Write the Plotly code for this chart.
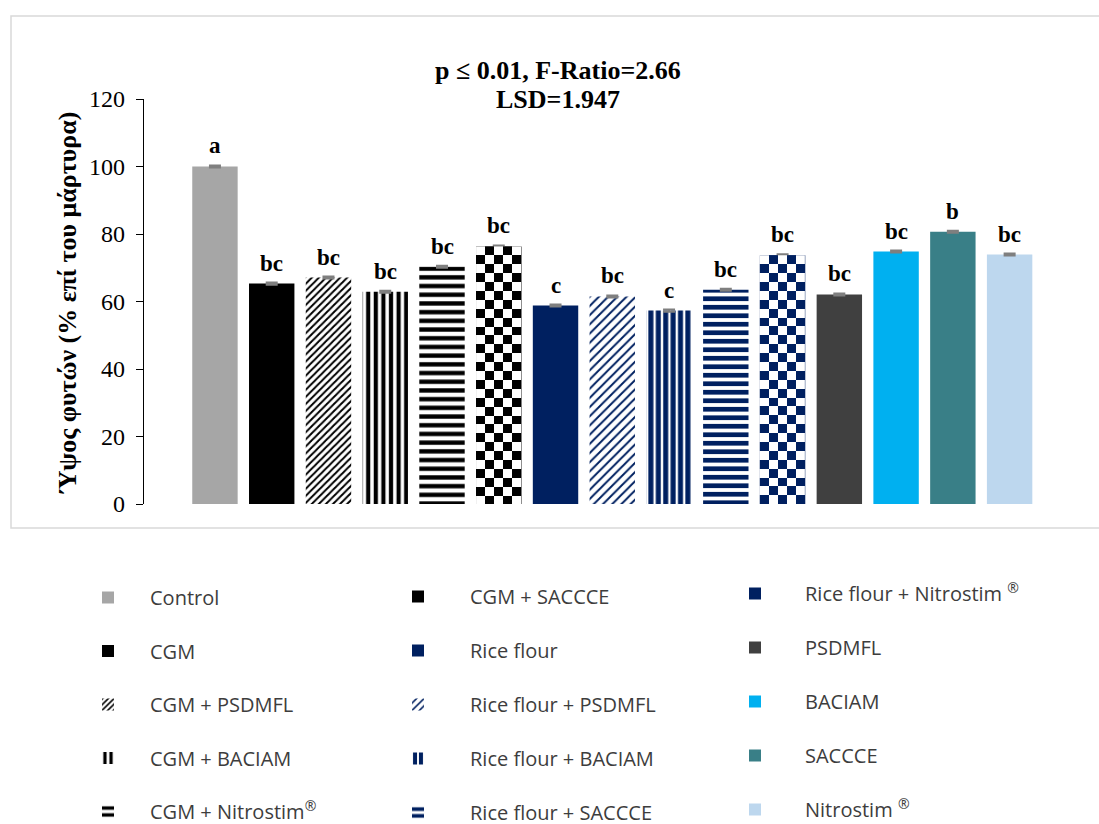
import numpy as np
import plotly.graph_objects as go

# Treatments, in bar order
treatments = [
    "Control", "CGM", "CGM + PSDMFL", "CGM + BACIAM", "CGM + Nitrostim<sup>®</sup>",
    "CGM + SACCCE", "Rice flour", "Rice flour + PSDMFL", "Rice flour + BACIAM",
    "Rice flour + SACCCE", "Rice flour + Nitrostim <sup>®</sup>", "PSDMFL", "BACIAM",
    "SACCCE", "Nitrostim <sup>®</sup>",
]
# Plant height, % of control
height_pct = [100.0, 65.3, 67.1, 62.9, 70.3, 76.3, 58.8, 61.5, 57.3, 63.5, 73.7,
              62.1, 74.8, 80.7, 73.9]
# Standard error of each mean
height_err = [0.3] * 15
# Significance letters (LSD test)
letters = ["a", "bc", "bc", "bc", "bc", "bc", "c", "bc", "c", "bc", "bc",
           "bc", "bc", "b", "bc"]
y_ticks = [0, 20, 40, 60, 80, 100, 120]

title_line1 = "p ≤ 0.01, F-Ratio=2.66"
title_line2 = "LSD=1.947"
y_title = "Ύψος φυτών (% επί του μάρτυρα)"

NAVY = "#002060"
# fill colour, pattern shape ("" solid, "chk" checkerboard), pattern size, solidity
styles = [
    ("#a6a6a6", "", 0, 0),
    ("#000000", "", 0, 0),
    ("#000000", "/", 5, 0.4),
    ("#000000", "|", 7.6, 0.55),
    ("#000000", "-", 8.7, 0.5),
    ("#000000", "chk", 0, 0),
    (NAVY, "", 0, 0),
    (NAVY, "/", 6.5, 0.3),
    (NAVY, "|", 7.4, 0.68),
    (NAVY, "-", 8.5, 0.55),
    (NAVY, "chk", 0, 0),
    ("#404040", "", 0, 0),
    ("#00b0f0", "", 0, 0),
    ("#397f87", "", 0, 0),
    ("#bdd7ee", "", 0, 0),
]
legend_of = ["legend"] * 5 + ["legend2"] * 5 + ["legend3"] * 5

BAR_W = 0.8
XR = [-1.25, 14.5]
YR = [0, 120]
serif = "Liberation Serif"

fig = go.Figure()

for i, (name, v, e) in enumerate(zip(treatments, height_pct, height_err)):
    color, shape, psize, psol = styles[i]
    marker = dict(color=color, line=dict(width=0))
    if shape and shape != "chk":
        marker["pattern"] = dict(shape=shape, fgcolor=color, bgcolor="white",
                                 size=psize, solidity=psol, fillmode="replace")
    fig.add_trace(go.Bar(
        x=[name], y=[v], width=BAR_W, name=name, marker=marker,
        error_y=dict(type="data", array=[e], color="#7f7f7f", thickness=2, width=6),
        legend=legend_of[i], legendgroup=name, showlegend=True,
        hoverinfo="skip",
    ))
    if shape == "chk":
        # checkerboard fill drawn on an overlaid axis pair so it sits above the bar
        ncols = 5
        nrows = int(round(v / 2.6))
        dy = v / nrows
        z = (np.add.outer(np.arange(nrows), np.arange(ncols)) % 2).astype(float)
        z = z[::-1]
        fig.add_trace(go.Heatmap(
            z=z, x0=i - BAR_W / 2 + BAR_W / ncols / 2, dx=BAR_W / ncols,
            y0=dy / 2, dy=dy, xaxis="x2", yaxis="y2",
            colorscale=[[0, "white"], [1, color]], zmin=0, zmax=1,
            showscale=False, zsmooth=False, hoverinfo="skip", showlegend=False,
        ))

# Significance letters above each bar
for name, v, e, let in zip(treatments, height_pct, height_err, letters):
    fig.add_annotation(x=name, y=v + e, text=f"<b>{let}</b>", showarrow=False,
                       yanchor="bottom", yshift=5,
                       font=dict(family=serif, size=23, color="black"))

# Statistics header
fig.add_annotation(xref="paper", yref="paper", x=0.463, y=(504 - 70) / 405,
                   text=f"<b>{title_line1}</b>", showarrow=False,
                   xanchor="center", yanchor="middle",
                   font=dict(family=serif, size=26, color="black"))
fig.add_annotation(xref="paper", yref="paper", x=0.463, y=(504 - 100) / 405,
                   text=f"<b>{title_line2}</b>", showarrow=False,
                   xanchor="center", yanchor="middle",
                   font=dict(family=serif, size=26, color="black"))

# Y-axis title
fig.add_annotation(xref="paper", yref="paper", x=(67 - 144) / 894, y=0.496,
                   text=f"<b>{y_title}</b>", textangle=-90, showarrow=False,
                   xanchor="center", yanchor="middle",
                   font=dict(family=serif, size=26, color="black"))

# Chart frame
fig.add_shape(type="rect", xref="paper", yref="paper",
              x0=(11 - 144) / 894, x1=(1250 - 144) / 894,
              y0=(504 - 528) / 405, y1=(504 - 16) / 405,
              line=dict(color="#d9d9d9", width=1.5), fillcolor="rgba(0,0,0,0)",
              layer="below")

leg_font = dict(family="Open Sans", size=20, color="#3d3d3d")
def leg(xpx, ypx, iw, gap):
    return dict(x=(xpx - 144) / 894, y=(504 - ypx) / 405, xanchor="left",
                yanchor="top", orientation="v", traceorder="grouped",
                tracegroupgap=gap, itemwidth=iw, font=leg_font,
                bgcolor="rgba(0,0,0,0)", itemclick=False, itemdoubleclick=False)

fig.update_layout(
    width=1099, height=824,
    margin=dict(l=144, r=61, t=99, b=320, autoexpand=False),
    paper_bgcolor="white", plot_bgcolor="white",
    barmode="overlay",
    showlegend=True,
    legend=leg(66, 578, 74, 24.5),
    legend2=leg(366, 577, 94, 25),
    legend3=leg(705, 574, 90, 25),
    xaxis=dict(range=XR, showticklabels=False, ticks="", showline=False,
               showgrid=False, zeroline=False, categoryorder="array",
               categoryarray=treatments),
    yaxis=dict(range=YR, tickvals=y_ticks, ticks="outside", ticklen=7,
               tickwidth=1.3, tickcolor="black", showline=True, linecolor="black",
               linewidth=1.3, showgrid=False, zeroline=False, ticklabelstandoff=6,
               tickfont=dict(family=serif, size=24, color="black")),
    xaxis2=dict(range=XR, overlaying="x", visible=False),
    yaxis2=dict(range=YR, overlaying="y", visible=False),
)

fig.write_html("out.html")
